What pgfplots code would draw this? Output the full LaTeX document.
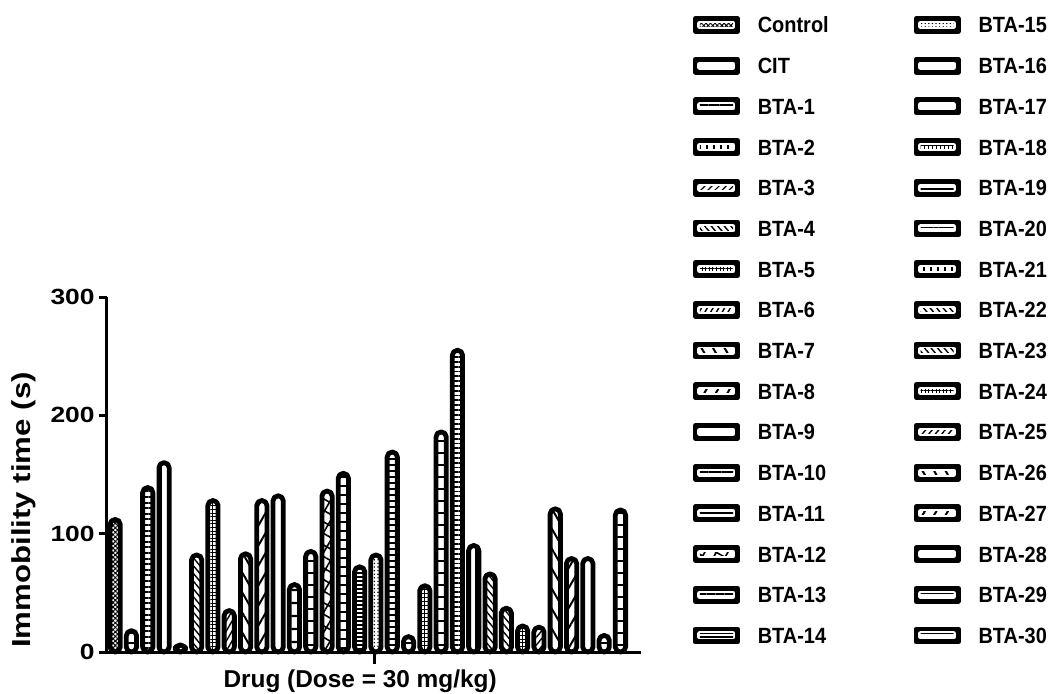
\documentclass[border=0pt]{standalone}
\usepackage{fontspec}
\setmainfont{Liberation Sans}
\usepackage{graphicx}
\usepackage{pgfplots}
\pgfplotsset{compat=1.18}
\usetikzlibrary{patterns.meta}
\newcommand\LE[1]{\scalebox{0.95}[1.05]{#1}}
\tikzset{B/.style={draw=black, line width=2.4pt, bar shift=0pt, line join=round, rounded corners=2.5pt}}
\begin{document}
\begin{tikzpicture}
\useasboundingbox (-53.5pt,-20.5pt) rectangle (470.5pt,326pt);
\begin{axis}[
  at={(0pt,0pt)}, anchor=south west,
  scale only axis, width=267pt, height=177.5pt,
  ybar, bar width=0.63,
  legend image code/.code={%
      \fill[black, sharp corners] (0pt,-3.25pt) -- (21pt,-3.25pt) -- (21pt,3.25pt) -- (0pt,3.25pt) -- cycle;
      \fill[white, sharp corners] (2.2pt,-0.8pt) -- (18.8pt,-0.8pt) -- (18.8pt,0.8pt) -- (2.2pt,0.8pt) -- cycle;
      \path[#1, draw=none, sharp corners] (2.2pt,-0.8pt) -- (18.8pt,-0.8pt) -- (18.8pt,0.8pt) -- (2.2pt,0.8pt) -- cycle;},
  xmin=0.5, xmax=33.26, ymin=0, ymax=300,
  clip=false,
  axis x line*=bottom, axis y line*=left,
  axis line style={-, line width=1.5pt, black},
  ytick={0,100,200,300},
  xtick=\empty,
  extra x ticks={16.88}, extra x tick labels={},
  extra x tick style={major tick length=6pt},
  tick align=outside, major tick length=4pt,
  tick style={black, line width=1.5pt},
  /pgf/number format/assume math mode=true,
  yticklabel={\scalebox{1.2}[1]{\pgfmathprintnumber{\tick}}},
  yticklabel style={font=\bfseries\fontsize{11}{11}\selectfont, inner sep=2pt},
  ylabel={\scalebox{1.2}[1]{Immobility time (s)}},
  ylabel style={at={(ticklabel cs:0.4)}, font=\bfseries\fontsize{13}{13}\selectfont, inner sep=5pt},
  xlabel={Drug (Dose = 30 mg/kg)},
  xlabel style={at={(axis description cs:0.474,0)}, anchor=north, inner sep=0pt, yshift=-8.5pt, font=\bfseries\fontsize{12.2}{12.2}\selectfont},
  legend columns=16, transpose legend,
  legend cell align=left,
  legend style={draw=none, fill=none, at={(1.0974,1.7915)}, anchor=north west,
    inner sep=0pt, outer sep=0pt,
    nodes={inner sep=0pt, text height=8pt, text depth=0pt, font=\bfseries\fontsize{10.5}{10.5}\selectfont},
    row sep=11.45pt,
    /tikz/column 1/.style={column sep=9pt},
    /tikz/column 2/.style={column sep=42.5pt},
    /tikz/column 3/.style={column sep=9pt}},
]
\addplot[B, pattern={Hatch[angle=45,distance=1.6pt,line width=0.5pt]}] coordinates {(1,112)};
\addlegendentry{\LE{Control}}
\addplot[B, pattern={Lines[angle=0,distance=5pt,line width=1pt]}] coordinates {(2,18)};
\addlegendentry{\LE{CIT}}
\addplot[B, pattern={Lines[angle=0,distance=2.8pt,line width=1pt]}] coordinates {(3,139)};
\addlegendentry{\LE{BTA-1}}
\addplot[B, pattern={Lines[angle=90,distance=3.5pt,line width=0.8pt]}] coordinates {(4,160)};
\addlegendentry{\LE{BTA-2}}
\addplot[B, pattern={Lines[angle=45,distance=2.5pt,line width=0.6pt]}] coordinates {(5,6)};
\addlegendentry{\LE{BTA-3}}
\addplot[B, pattern={Lines[angle=-50,distance=2.5pt,line width=0.7pt]}] coordinates {(6,82)};
\addlegendentry{\LE{BTA-4}}
\addplot[B, pattern={Hatch[angle=0,distance=1.8pt,line width=0.5pt]}] coordinates {(7,128)};
\addlegendentry{\LE{BTA-5}}
\addplot[B, pattern={Lines[angle=60,distance=2.5pt,line width=0.7pt]}] coordinates {(8,35)};
\addlegendentry{\LE{BTA-6}}
\addplot[B, pattern={Lines[angle=-60,distance=5pt,line width=1pt]}] coordinates {(9,83)};
\addlegendentry{\LE{BTA-7}}
\addplot[B, pattern={Lines[angle=60,distance=5pt,line width=1pt]}] coordinates {(10,128)};
\addlegendentry{\LE{BTA-8}}
\addplot[B, fill=white] coordinates {(11,132)};
\addlegendentry{\LE{BTA-9}}
\addplot[B, pattern={Lines[angle=0,distance=6.5pt,line width=1.2pt]}] coordinates {(12,57)};
\addlegendentry{\LE{BTA-10}}
\addplot[B, pattern={Lines[angle=0,distance=6pt,line width=1.2pt]}] coordinates {(13,85)};
\addlegendentry{\LE{BTA-11}}
\addplot[B, pattern={Hatch[angle=60,distance=5pt,line width=0.8pt]}] coordinates {(14,136)};
\addlegendentry{\LE{BTA-12}}
\addplot[B, pattern={Lines[angle=0,distance=4.5pt,line width=0.8pt]}] coordinates {(15,151)};
\addlegendentry{\LE{BTA-13}}
\addplot[B, pattern={Lines[angle=0,distance=2pt,line width=0.8pt]}] coordinates {(16,72)};
\addlegendentry{\LE{BTA-14}}
\addplot[B, pattern={Dots[distance=1.8pt,radius=0.4pt]}] coordinates {(17,82)};
\addlegendentry{\LE{BTA-15}}
\addplot[B, pattern={Lines[angle=0,distance=3pt,line width=0.7pt]}] coordinates {(18,169)};
\addlegendentry{\LE{BTA-16}}
\addplot[B, pattern={Lines[angle=0,distance=5pt,line width=1pt]}] coordinates {(19,13)};
\addlegendentry{\LE{BTA-17}}
\addplot[B, pattern={Hatch[angle=0,distance=2pt,line width=0.5pt]}] coordinates {(20,56)};
\addlegendentry{\LE{BTA-18}}
\addplot[B, pattern={Lines[angle=0,distance=6pt,line width=1.3pt]}] coordinates {(21,186)};
\addlegendentry{\LE{BTA-19}}
\addplot[B, pattern={Lines[angle=0,distance=2.4pt,line width=0.9pt]}] coordinates {(22,255)};
\addlegendentry{\LE{BTA-20}}
\addplot[B, pattern={Lines[angle=90,distance=3.5pt,line width=0.8pt]}] coordinates {(23,90)};
\addlegendentry{\LE{BTA-21}}
\addplot[B, pattern={Lines[angle=-50,distance=2.5pt,line width=0.7pt]}] coordinates {(24,66)};
\addlegendentry{\LE{BTA-22}}
\addplot[B, pattern={Lines[angle=-50,distance=2.5pt,line width=0.7pt]}] coordinates {(25,37)};
\addlegendentry{\LE{BTA-23}}
\addplot[B, pattern={Hatch[angle=0,distance=1.8pt,line width=0.5pt]}] coordinates {(26,22)};
\addlegendentry{\LE{BTA-24}}
\addplot[B, pattern={Lines[angle=50,distance=2.5pt,line width=0.7pt]}] coordinates {(27,21)};
\addlegendentry{\LE{BTA-25}}
\addplot[B, pattern={Lines[angle=-60,distance=5pt,line width=1pt]}] coordinates {(28,121)};
\addlegendentry{\LE{BTA-26}}
\addplot[B, pattern={Lines[angle=60,distance=5pt,line width=1pt]}] coordinates {(29,79)};
\addlegendentry{\LE{BTA-27}}
\addplot[B, fill=white] coordinates {(30,79)};
\addlegendentry{\LE{BTA-28}}
\addplot[B, pattern={Lines[angle=0,distance=5pt,line width=1pt]}] coordinates {(31,14)};
\addlegendentry{\LE{BTA-29}}
\addplot[B, pattern={Lines[angle=0,distance=6pt,line width=1.2pt]}] coordinates {(32,120)};
\addlegendentry{\LE{BTA-30}}
\end{axis}
\end{tikzpicture}
\end{document}
